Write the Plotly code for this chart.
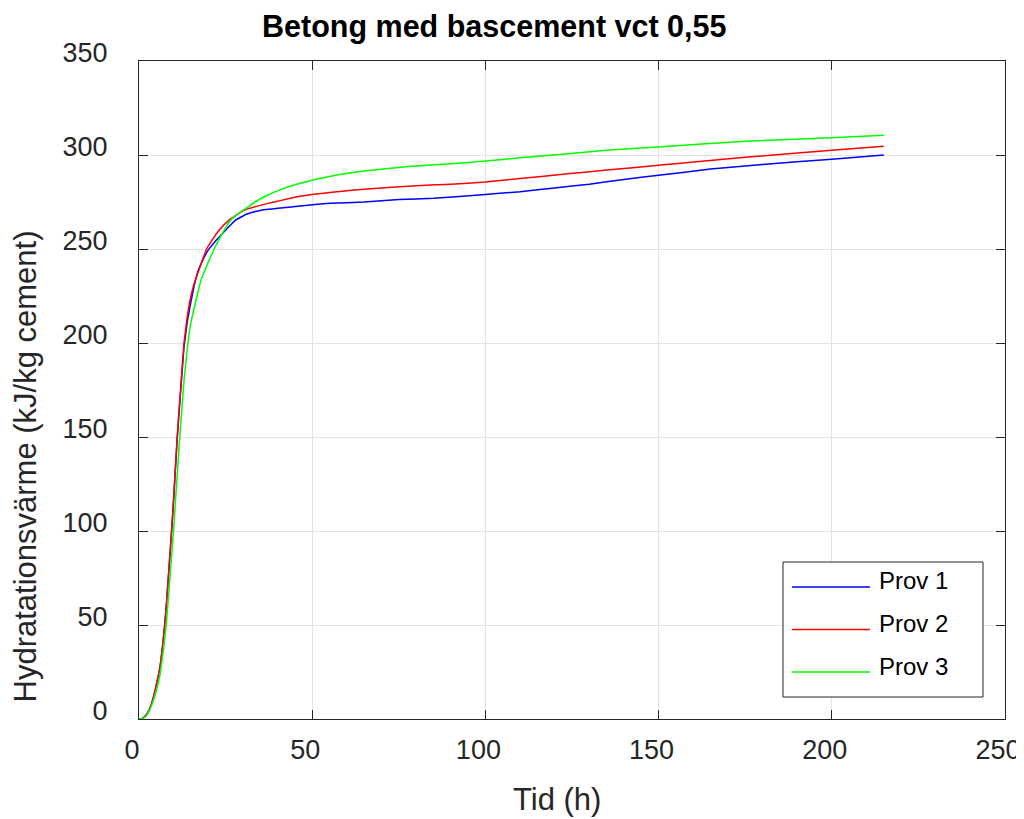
import plotly.graph_objects as go

# ---- data ----
x_prov1 = [0, 1, 2, 3, 4, 5, 6, 7, 7.5, 8, 8.5, 9, 9.5, 10, 10.5, 11, 11.5, 12, 12.5, 13, 14, 15, 16, 17, 18, 20, 22, 24, 26, 28, 31, 35, 41, 48, 55, 65, 75, 85, 100, 110, 120, 130, 140, 150, 165, 180, 200, 215]
y_prov1 = [0, 0.3, 2, 5, 10.5, 18, 27, 42, 51.5, 63, 76, 89, 102.5, 117, 133, 148.5, 162, 174, 186, 198, 212, 222, 231, 238, 242.5, 249.5, 254, 258, 262, 265.5, 268.5, 270.5, 271.8, 273.2, 274.3, 275, 276.3, 277, 279, 280.5, 282.5, 284.5, 287, 289.2, 292.5, 295, 297.7, 300]

x_prov2 = [0, 1, 2, 3, 4, 5, 6, 7, 7.5, 8, 8.5, 9, 9.5, 10, 10.5, 11, 11.5, 12, 12.5, 13, 14, 15, 16, 17.3, 19.5, 21, 23.1, 26, 30.4, 36.6, 41.4, 46.5, 55, 59.4, 65, 78.7, 90, 100, 110, 123.8, 135, 150, 175, 200, 215]
y_prov2 = [0, 0.3, 2, 5, 10.5, 18, 27, 42, 51.5, 63, 76, 89, 102.5, 117, 133, 148.5, 162, 175, 188, 200, 215, 225, 232, 238.8, 250, 254.5, 260, 265.4, 270.7, 274, 276, 278, 280, 280.9, 281.8, 283.5, 284.5, 285.6, 287.5, 290, 292, 294.5, 298.8, 302.5, 304.6]

x_prov3 = [0, 1, 2, 3, 4, 5, 6, 7, 7.5, 8, 8.5, 9, 9.5, 10, 10.5, 11, 11.5, 12, 12.5, 13, 14, 15, 16, 17, 18, 20, 21.7, 24.6, 26.5, 28.5, 30.8, 33.5, 36.6, 41.4, 46.5, 55, 59.4, 65, 78.7, 90, 100, 110, 123.8, 135, 150, 175, 200, 215]
y_prov3 = [0, 0.2, 1.5, 4.5, 9, 15, 23, 36, 44, 53, 65, 77, 89, 101, 115, 129, 143, 156, 168, 180, 198, 211, 219, 227, 234, 243, 250, 260, 265.4, 268.5, 271.5, 275, 278.2, 282, 285, 288.6, 290, 291.5, 294, 295.3, 296.8, 298.5, 300.7, 302.5, 304.3, 307.3, 309.2, 310.5]

series_names = ["Prov 1", "Prov 2", "Prov 3"]
series_colors = ["#0000ff", "#ff0000", "#00ff00"]

x_ticks = [0, 50, 100, 150, 200, 250]
y_ticks = [0, 50, 100, 150, 200, 250, 300, 350]

title_text = "Betong med bascement vct 0,55"
x_title = "Tid (h)"
y_title = "Hydratationsvärme (kJ/kg cement)"

FONT = "Liberation Sans, Arial, sans-serif"
AX = "#262626"

fig = go.Figure()
for xs, ys, name, col in zip([x_prov1, x_prov2, x_prov3], [y_prov1, y_prov2, y_prov3], series_names, series_colors):
    fig.add_trace(go.Scatter(x=xs, y=ys, mode="lines", name=name,
                             line=dict(color=col, width=1.5, shape="spline", smoothing=0.3),
                             showlegend=False, hoverinfo="skip"))

axis_common = dict(showline=True, linecolor=AX, linewidth=1, mirror="ticks",
                   ticks="inside", ticklen=9, tickcolor=AX, tickwidth=1,
                   showgrid=True, gridcolor="#e3e3e3", gridwidth=1,
                   zeroline=False, ticklabeloverflow="allow",
                   tickfont=dict(family=FONT, size=27, color=AX))

fig.update_xaxes(range=[0, 250], tickvals=x_ticks, ticktext=[str(v) for v in x_ticks],
                 ticklabelstandoff=7, ticklabelshift=-7, **axis_common)
fig.update_yaxes(range=[0, 350], tickvals=y_ticks, ticktext=[str(v) for v in y_ticks],
                 ticklabelstandoff=25, ticklabelshift=-8, **axis_common)

# The page body has an 8px margin, so the figure is drawn 8px right/down in the window.
OFF = 8
W, H = 1024, 819
L, R, T, B = 139 - OFF, 1005 - OFF, 61 - OFF, 719 - OFF   # plot area in figure pixels
def px(xp):  # window pixel -> paper
    return (xp - OFF - L) / (R - L)
def py(yp):
    return (B - (yp - OFF)) / (B - T)

annotations = [
    dict(text="<b>" + title_text + "</b>", x=px(494), y=py(26), xref="paper", yref="paper",
         showarrow=False, xanchor="center", yanchor="middle",
         font=dict(family=FONT, size=30.5, color="#000000")),
    dict(text=x_title, x=px(556.5), y=py(799), xref="paper", yref="paper",
         showarrow=False, xanchor="center", yanchor="middle",
         font=dict(family=FONT, size=31, color=AX)),
    dict(text=y_title, x=px(25), y=py(466.5), xref="paper", yref="paper",
         showarrow=False, xanchor="center", yanchor="middle", textangle=-90,
         font=dict(family=FONT, size=31, color=AX)),
]

# legend (drawn manually to match the long line samples)
shapes = [dict(type="rect", xref="paper", yref="paper", x0=px(783), x1=px(983),
               y0=py(697), y1=py(562), line=dict(color=AX, width=1), fillcolor="white", layer="above")]
line_y = [587, 629.5, 672]
text_y = [580, 623, 666]
for name, col, ly, ty in zip(series_names, series_colors, line_y, text_y):
    shapes.append(dict(type="line", xref="paper", yref="paper", x0=px(792), x1=px(870),
                       y0=py(ly), y1=py(ly), line=dict(color=col, width=1.5), layer="above"))
    annotations.append(dict(text=name, x=px(877), y=py(ty), xref="paper", yref="paper",
                            showarrow=False, xanchor="left", yanchor="middle",
                            font=dict(family=FONT, size=24, color="#000000")))

fig.update_layout(width=W, height=H, paper_bgcolor="white", plot_bgcolor="white",
                  margin=dict(l=L, r=W - R, t=T, b=H - B, pad=0),
                  annotations=annotations, shapes=shapes, showlegend=False)

fig.write_html("out.html", config={"displayModeBar": False, "responsive": False},
               post_script="document.documentElement.style.overflow='hidden';document.body.style.overflow='hidden';")
